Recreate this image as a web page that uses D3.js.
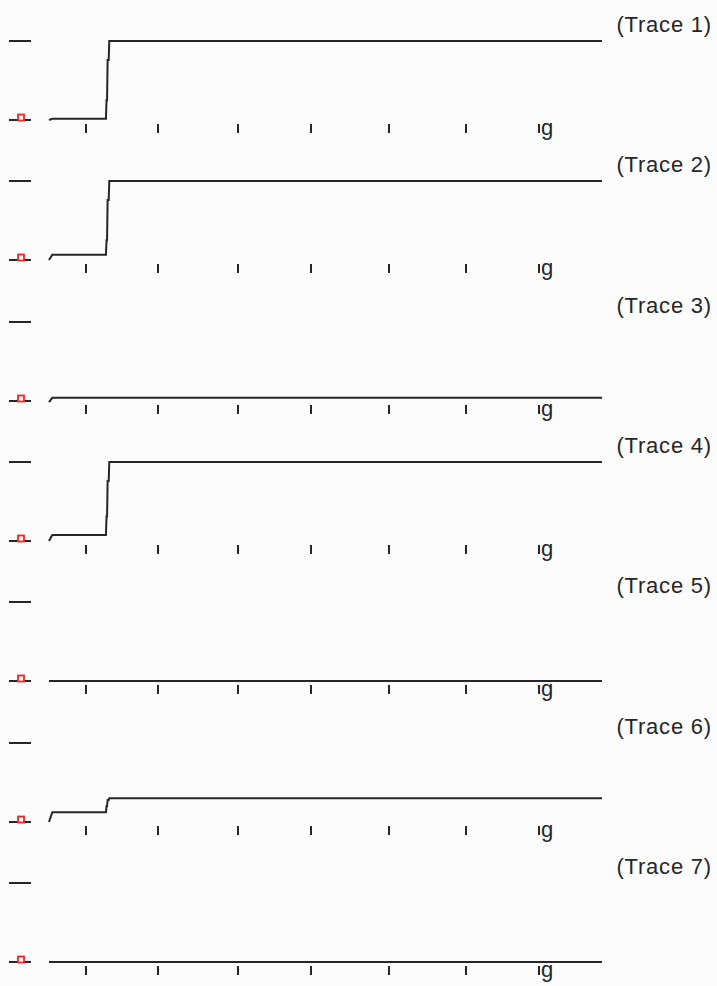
<!DOCTYPE html>
<html>
<head>
<meta charset="utf-8">
<script src="https://cdn.jsdelivr.net/npm/d3@7"></script>
<style>
  html, body { margin: 0; padding: 0; background: #fcfcfc; }
  svg { display: block; }
</style>
</head>
<body>
<div id="chart"></div>
<script>
// Trace names (one panel per trace)
const traceNames = ["Trace 1", "Trace 2", "Trace 3", "Trace 4", "Trace 5", "Trace 6", "Trace 7"];

// Shared sample times for every trace
const sampleTimes = [0, 0.6, 10.3, 10.4, 10.5, 10.6, 10.8, 10.9, 100];

// Values per trace (0 = baseline marker, 1 = top marker)
const trace1 = [0, 0.016, 0.016, 0.25, 0.25, 0.76, 0.76, 1, 1];
const trace2 = [0, 0.067, 0.067, 0.25, 0.25, 0.76, 0.76, 1, 1];
const trace3 = [-0.015, 0.04, 0.04, 0.04, 0.04, 0.04, 0.04, 0.04, 0.04];
const trace4 = [0, 0.076, 0.076, 0.31, 0.31, 0.76, 0.76, 1, 1];
const trace5 = [0, 0, 0, 0, 0, 0, 0, 0, 0];
const trace6 = [0, 0.125, 0.125, 0.2, 0.2, 0.28, 0.28, 0.3, 0.3];
const trace7 = [0, 0, 0, 0, 0, 0, 0, 0, 0];
const traces = [trace1, trace2, trace3, trace4, trace5, trace6, trace7];

// x-axis ticks (last one carries the clipped "g" label)
const tickValues = [6.7, 19.7, 34.2, 47.4, 61.5, 75.4, 88.6];
const tickLabels = ["", "", "", "", "", "", "g"];

const width = 717, height = 986;
const panelStep = 140.3;
const firstBase = 120;
const amp = 79;
const ink = "#262626";

const svg = d3.select("#chart").append("svg")
    .attr("width", width)
    .attr("height", height);

svg.append("rect").attr("width", width).attr("height", height).attr("fill", "#fcfcfc");

const x = d3.scaleLinear().domain([0, 100]).range([49, 602]);

traceNames.forEach((name, i) => {
    const base = Math.round(firstBase + i * panelStep);
    const y = d3.scaleLinear().domain([0, 1]).range([base, base - amp]);
    const g = svg.append("g");

    // left reference marks at 0 and 1
    [0, 1].forEach(v => {
        g.append("line")
            .attr("x1", 9).attr("x2", 31)
            .attr("y1", y(v)).attr("y2", y(v))
            .attr("stroke", ink).attr("stroke-width", 2);
    });

    // red baseline marker
    g.append("rect")
        .attr("x", 18).attr("y", y(0) - 5.5)
        .attr("width", 6).attr("height", 6)
        .attr("fill", "#fcfcfc")
        .attr("stroke", "#ff2020").attr("stroke-width", 1.8);

    // ticks
    g.selectAll(".tick")
        .data(tickValues)
        .enter().append("line")
        .attr("x1", d => Math.round(x(d))).attr("x2", d => Math.round(x(d)))
        .attr("y1", y(0) + 4).attr("y2", y(0) + 13)
        .attr("stroke", ink).attr("stroke-width", 2);

    g.selectAll(".ticklabel")
        .data(tickValues.map((d, k) => ({ v: d, label: tickLabels[k] })).filter(d => d.label))
        .enter().append("text")
        .attr("x", d => x(d.v) + 2)
        .attr("y", y(0) + 15)
        .style("font-family", "'Liberation Sans', Arial, sans-serif")
        .style("font-size", "22px")
        .attr("fill", ink)
        .text(d => d.label);

    // trace line
    const line = d3.line()
        .x((d, k) => x(sampleTimes[k]))
        .y(d => y(d));

    g.append("path")
        .datum(traces[i])
        .attr("fill", "none")
        .attr("stroke", ink)
        .attr("stroke-width", 2)
        .attr("d", line);

    // trace label
    g.append("text")
        .attr("x", 712)
        .attr("y", base - 88)
        .attr("text-anchor", "end")
        .style("font-family", "'Liberation Sans', Arial, sans-serif")
        .style("font-size", "22px")
        .style("letter-spacing", "0.8px")
        .attr("fill", ink)
        .text(`(${name})`);
});
</script>
</body>
</html>
